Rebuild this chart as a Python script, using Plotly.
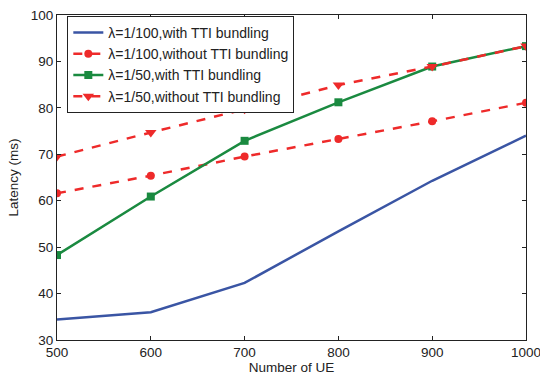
import plotly.graph_objects as go

num_ue = [500, 600, 700, 800, 900, 1000]
lat_100_with = [34.4, 36.0, 42.3, 53.4, 64.3, 74.0]
lat_100_without = [61.6, 65.4, 69.5, 73.3, 77.1, 81.1]
lat_50_with = [48.3, 60.9, 72.9, 81.2, 88.9, 93.3]
lat_50_without = [69.5, 74.7, 79.7, 84.9, 88.9, 93.3]

names = ["λ=1/100,with TTI bundling", "λ=1/100,without TTI bundling",
         "λ=1/50,with TTI bundling", "λ=1/50,without TTI bundling"]

blue = "#3a55a4"
red = "#ee2a2a"
green = "#1a8a40"

fig = go.Figure()
fig.add_trace(go.Scatter(x=num_ue, y=lat_100_with, name=names[0], mode="lines",
                         line=dict(color=blue, width=2.5)))
fig.add_trace(go.Scatter(x=num_ue, y=lat_100_without, name=names[1], mode="lines+markers",
                         line=dict(color=red, width=2.5, dash="dash"),
                         marker=dict(symbol="circle", size=8, color=red)))
fig.add_trace(go.Scatter(x=num_ue, y=lat_50_with, name=names[2], mode="lines+markers",
                         line=dict(color=green, width=2.5),
                         marker=dict(symbol="square", size=8, color=green)))
fig.add_trace(go.Scatter(x=num_ue, y=lat_50_without, name=names[3], mode="lines+markers",
                         line=dict(color=red, width=2.5, dash="dash"),
                         marker=dict(symbol="triangle-down", size=10, color=red)))

axis_common = dict(showgrid=False, zeroline=False, showline=True, linecolor="#222",
                   linewidth=1.2, mirror="allticks", ticks="inside", ticklen=4,
                   tickcolor="#222", automargin=False, ticklabeloverflow="allow",
                   tickfont=dict(family="Arial, Liberation Sans", size=13.5, color="#222"))

fig.update_layout(
    width=540, height=377,
    margin=dict(l=57, r=14, t=15, b=37),
    paper_bgcolor="white", plot_bgcolor="white",
    font=dict(family="Arial, Liberation Sans", size=12, color="#222"),
    xaxis=dict(range=[500, 1000], tickvals=[500, 600, 700, 800, 900, 1000],
               title=dict(text="Number of UE", standoff=0, font=dict(size=13.5)), **axis_common),
    yaxis=dict(range=[30, 100], tickvals=[30, 40, 50, 60, 70, 80, 90, 100],
               title=dict(text="Latency (ms)", standoff=8, font=dict(size=13.5)), **axis_common),
    legend=dict(x=0.022, y=0.997, xanchor="left", yanchor="top",
                bgcolor="white", bordercolor="#222", borderwidth=1,
                font=dict(size=14), itemwidth=30, tracegroupgap=0),
    showlegend=True,
)

fig.write_html("out.html")
